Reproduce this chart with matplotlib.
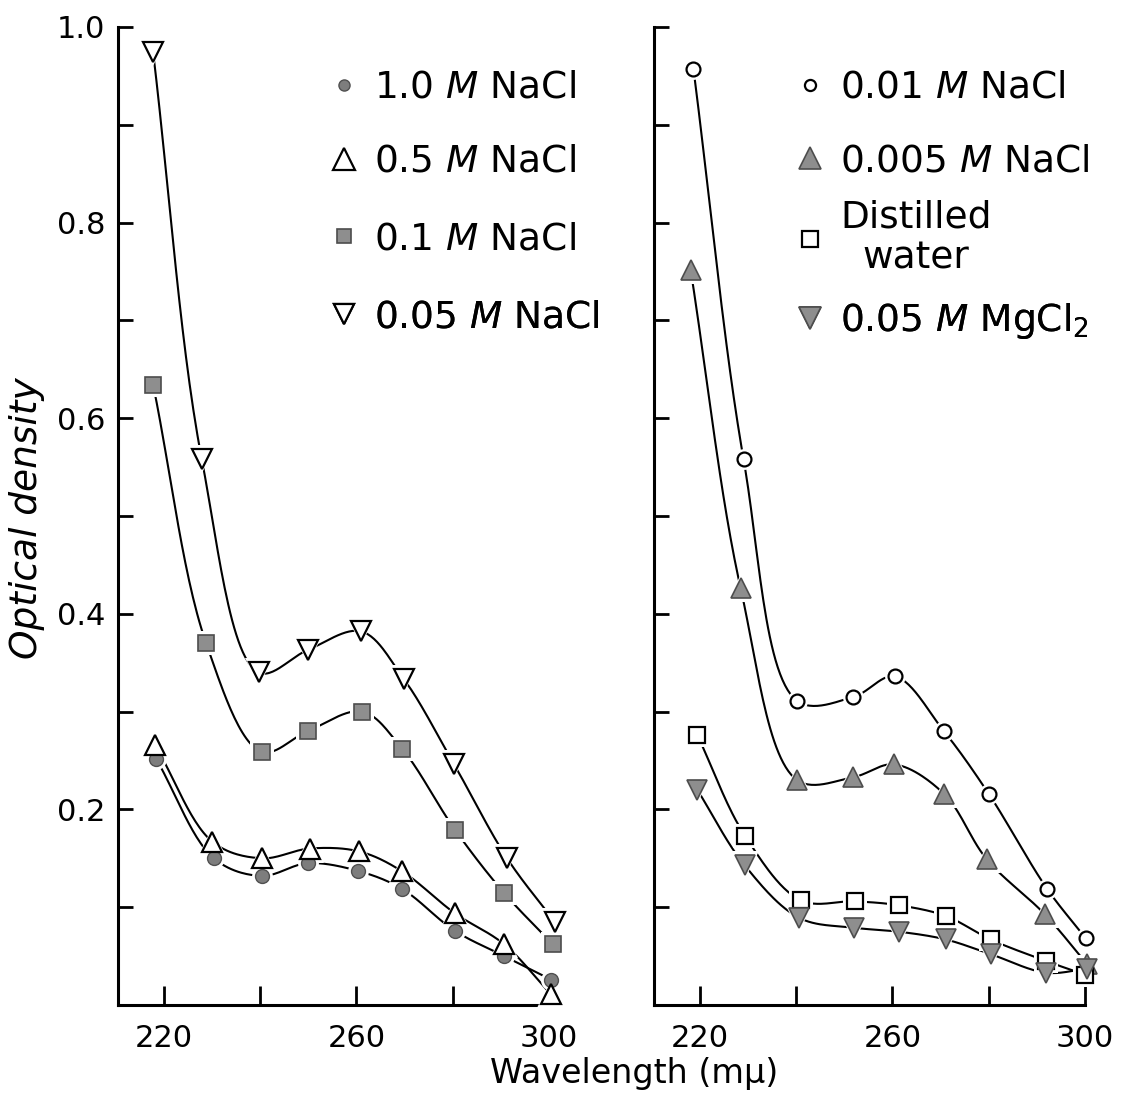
import numpy as np
import matplotlib
matplotlib.use("Agg")
import matplotlib.pyplot as plt
from matplotlib.lines import Line2D

plt.rcParams['font.family'] = ['DejaVu Sans']
plt.rcParams['mathtext.fontset'] = 'dejavusans'

# ---------------- data ----------------
# left panel
x_nacl_10 = [218.4, 230.4, 240.3, 249.9, 260.4, 269.4, 280.4, 290.7, 300.4]
y_nacl_10 = [0.252, 0.150, 0.132, 0.145, 0.137, 0.119, 0.076, 0.050, 0.026]

x_nacl_05 = [218.2, 230.1, 240.3, 250.3, 260.6, 269.4, 280.4, 290.7, 300.4]
y_nacl_05 = [0.266, 0.167, 0.150, 0.160, 0.157, 0.137, 0.094, 0.062, 0.011]

x_nacl_01 = [217.8, 228.8, 240.3, 249.9, 261.2, 269.5, 280.5, 290.6, 300.8]
y_nacl_01 = [0.634, 0.370, 0.259, 0.280, 0.300, 0.262, 0.179, 0.115, 0.062]

x_nacl_005 = [217.8, 227.9, 239.7, 249.9, 261.0, 269.9, 280.3, 291.3, 301.2]
y_nacl_005 = [0.974, 0.558, 0.340, 0.363, 0.382, 0.333, 0.246, 0.150, 0.085]

# right panel
x_nacl_001 = [218.7, 229.1, 240.2, 251.9, 260.5, 270.7, 280.0, 292.1, 300.2]
y_nacl_001 = [0.957, 0.558, 0.311, 0.315, 0.336, 0.280, 0.216, 0.119, 0.068]

x_nacl_0005 = [218.1, 228.5, 240.2, 251.9, 260.4, 270.7, 279.6, 291.6, 300.4]
y_nacl_0005 = [0.752, 0.426, 0.230, 0.233, 0.246, 0.216, 0.149, 0.093, 0.042]

x_water = [219.5, 229.4, 241.0, 252.2, 261.3, 271.1, 280.4, 291.9, 300.0]
y_water = [0.276, 0.173, 0.107, 0.106, 0.102, 0.091, 0.067, 0.045, 0.031]

x_mgcl2 = [219.5, 229.3, 240.7, 252.1, 261.3, 271.1, 280.4, 291.9, 300.4]
y_mgcl2 = [0.220, 0.143, 0.089, 0.079, 0.075, 0.067, 0.052, 0.033, 0.037]

labels_left = [r"1.0 $\mathit{M}$ NaCl", r"0.5 $\mathit{M}$ NaCl",
               r"0.1 $\mathit{M}$ NaCl", r"0.05 $\mathit{M}$ NaCl"]
labels_right = [r"0.01 $\mathit{M}$ NaCl", r"0.005 $\mathit{M}$ NaCl",
                "Distilled\nwater", r"0.05 $\mathit{M}$ MgCl$_2$"]

x_ticks = [220, 240, 260, 280, 300]
x_ticklabels = ["220", "", "260", "", "300"]
y_ticks = [0.1, 0.2, 0.3, 0.4, 0.5, 0.6, 0.7, 0.8, 0.9, 1.0]
y_ticklabels = ["", "0.2", "", "0.4", "", "0.6", "", "0.8", "", "1.0"]

# ---------------- styles ----------------
OPEN = dict(mfc="white", mec="black", mew=1.6)
GREY = dict(mfc="#8e8e8e", mec="#4d4d4d", mew=1.2)
DOT = dict(mfc="#7d7d7d", mec="#505050", mew=1.0)

left_series = [
    (x_nacl_10, y_nacl_10, "o", 10, DOT, 8),
    (x_nacl_05, y_nacl_05, "^", 15, OPEN, 16),
    (x_nacl_01, y_nacl_01, "s", 12, GREY, 9.5),
    (x_nacl_005, y_nacl_005, "v", 15, OPEN, 15),
]
right_series = [
    (x_nacl_001, y_nacl_001, "o", 10, OPEN, 8),
    (x_nacl_0005, y_nacl_0005, "^", 15, GREY, 16),
    (x_water, y_water, "s", 12, OPEN, 11),
    (x_mgcl2, y_mgcl2, "v", 15, GREY, 16),
]

W, H = 1122, 1113
fig = plt.figure(figsize=(W / 100, H / 100), dpi=100)
fig.patch.set_facecolor("white")

axL = fig.add_axes([118 / W, 1 - 1005 / H, 431 / W, 978 / H])
axR = fig.add_axes([654 / W, 1 - 1005 / H, 431 / W, 978 / H])


def smooth(x, y, ysc=204.0, n=30):
    """Centripetal Catmull-Rom curve through the measured points."""
    P = np.column_stack([np.asarray(x, float), np.asarray(y, float) * ysc])
    P = np.vstack([2 * P[0] - P[1], P, 2 * P[-1] - P[-2]])
    out = []
    for i in range(1, len(P) - 2):
        p0, p1, p2, p3 = P[i - 1], P[i], P[i + 1], P[i + 2]
        t0 = 0.0
        t1 = t0 + np.linalg.norm(p1 - p0) ** 0.5
        t2 = t1 + np.linalg.norm(p2 - p1) ** 0.5
        t3 = t2 + np.linalg.norm(p3 - p2) ** 0.5
        t = np.linspace(t1, t2, n)[:, None]
        A1 = (t1 - t) / (t1 - t0) * p0 + (t - t0) / (t1 - t0) * p1
        A2 = (t2 - t) / (t2 - t1) * p1 + (t - t1) / (t2 - t1) * p2
        A3 = (t3 - t) / (t3 - t2) * p2 + (t - t2) / (t3 - t2) * p3
        B1 = (t2 - t) / (t2 - t0) * A1 + (t - t0) / (t2 - t0) * A2
        B2 = (t3 - t) / (t3 - t1) * A2 + (t - t1) / (t3 - t1) * A3
        C = (t2 - t) / (t2 - t1) * B1 + (t - t1) / (t2 - t1) * B2
        out.append(C if i == 1 else C[1:])
    C = np.vstack(out)
    return C[:, 0], C[:, 1] / ysc


def draw_panel(ax, series):
    for x, y, m, ms, st, _ in series:
        sx, sy = smooth(x, y)
        ax.plot(sx, sy, color="black", lw=1.5, zorder=2, clip_on=False)
        ax.plot(x, y, ls="none", marker=m, ms=ms + 5, mfc="white", mec="white",
                mew=0, zorder=3, clip_on=False)
        ax.plot(x, y, ls="none", marker=m, ms=ms, zorder=4, clip_on=False, **st)
    ax.set_xlim(210.5, 300)
    ax.set_ylim(0, 1.0)
    for s in ("top", "right"):
        ax.spines[s].set_visible(False)
    for s in ("left", "bottom"):
        ax.spines[s].set_linewidth(2.2)
    ax.set_xticks(x_ticks)
    ax.set_xticklabels(x_ticklabels)
    ax.set_yticks(y_ticks)
    ax.tick_params(axis="x", direction="in", length=14, width=2, pad=14, labelsize=22)
    ax.tick_params(axis="y", direction="in", length=11, width=2, pad=9, labelsize=22)
    ax.set_facecolor("none")


draw_panel(axL, left_series)
draw_panel(axR, right_series)
axL.set_yticklabels(y_ticklabels)
axR.set_yticklabels([""] * len(y_ticks))

FS = 27
HL, HP = 0.6, 0.5


def add_key(ax, entry, label, marker_px, py):
    x, y, m, ms, st, lms = entry
    h = Line2D([], [], ls="none", marker=m, ms=lms, **st)
    left = marker_px - HL * FS * 100 / 72 / 2
    leg = ax.legend([h], [label], loc="center left",
                    bbox_to_anchor=(left / W, 1 - py / H),
                    bbox_transform=fig.transFigure, frameon=False,
                    borderpad=0, borderaxespad=0, handlelength=HL,
                    handletextpad=HP, fontsize=FS, numpoints=1)
    for t in leg.get_texts():
        t.set_multialignment("center")
    ax.add_artist(leg)


for entry, lab, py in zip(left_series, labels_left, [88, 162, 239, 317]):
    add_key(axL, entry, lab, 344, py)
for entry, lab, py in zip(right_series, labels_right, [88, 161, 238, 321]):
    add_key(axR, entry, lab, 810, py)

fig.text(27 / W, 1 - 518 / H, "Optical density", rotation=90, style="italic",
         fontsize=27, ha="center", va="center")
fig.text(634 / W, 1 - 1073 / H, "Wavelength (mμ)", fontsize=24,
         ha="center", va="center")

fig.savefig("out.png", dpi=100, facecolor="white")
